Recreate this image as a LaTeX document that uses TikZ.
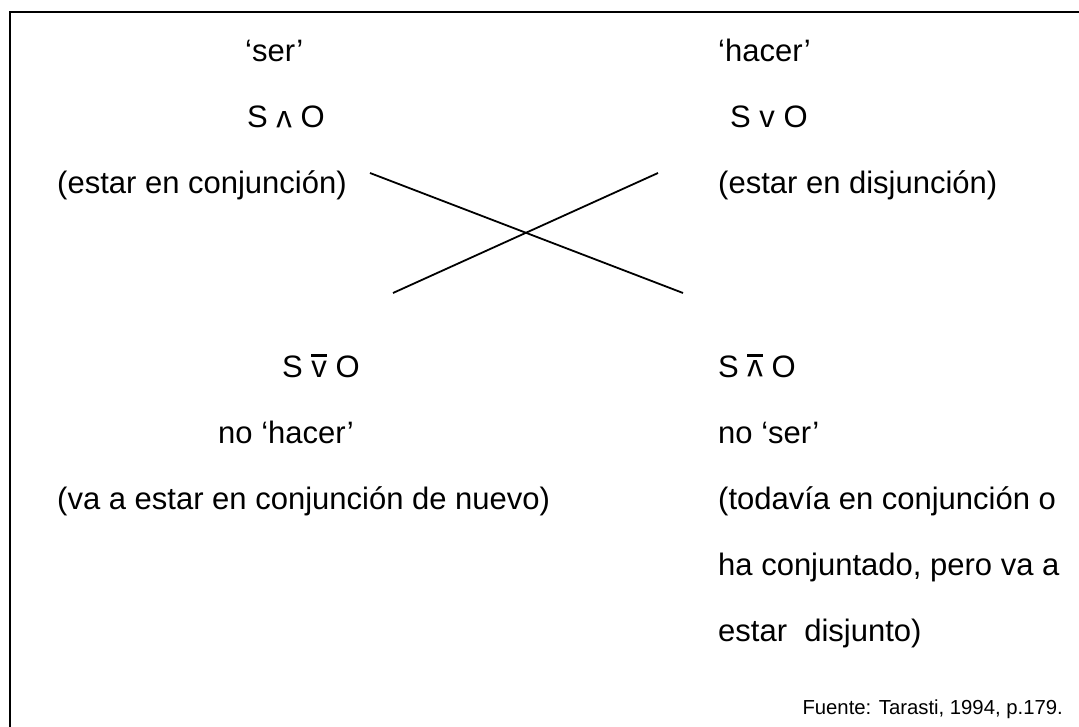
\documentclass[tikz,border=0pt]{standalone}
\usepackage{fontspec}
\setmainfont{Liberation Sans}
\usepackage{graphicx}
\newcommand{\opor}{v}
\newcommand{\opand}{\rotatebox[origin=c]{180}{v}}
\newcommand{\withbar}[1]{\setbox0\hbox{#1}\rlap{\raisebox{20.5pt}{\rule{\wd0}{2.4pt}}}\box0\relax}
\tikzset{
  lbl/.style={anchor=base west, inner sep=0pt, font=\fontsize{31}{37}\selectfont},
  src/.style={anchor=base east, inner sep=0pt, font=\fontsize{20.3}{24}\selectfont},
  xline/.style={line width=1.8pt},
  frame/.style={line width=2pt}
}
\begin{document}
\begin{tikzpicture}[x=1pt,y=-1pt]
\clip (0,0) rectangle (1079,727);
\fill[white] (0,0) rectangle (1079,727);
\draw[frame] (9.5,12.5) rectangle (1100,760);
\node[lbl] (ser) at (245,62) {‘ser’};
\node[lbl] (hacer) at (718,62) {‘hacer’};
\node[lbl] (sand) at (247,128) {S \opand{} O};
\node[lbl] (sor) at (730,128) {S \opor{} O};
\node[lbl] (conj) at (57,194) {(estar en conjunción)};
\node[lbl] (disj) at (718,194) {(estar en disjunción)};
\node[lbl] (snor) at (282,377) {S \withbar{\opor} O};
\node[lbl] (snand) at (718,377) {S \withbar{\opand} O};
\node[lbl] (nohacer) at (218,443) {no ‘hacer’};
\node[lbl] (noser) at (718,443) {no ‘ser’};
\node[lbl] (va) at (57,509) {(va a estar en conjunción de nuevo)};
\node[lbl] (tod1) at (718,509) {(todavía en conjunción o};
\node[lbl] (tod2) at (718,575) {ha conjuntado, pero va a};
\node[lbl] (tod3) at (718,641) {estar\ \ disjunto)};
\node[src] (fuente) at (1063,714) {Fuente: Tarasti, 1994, p.179.};
\coordinate (a1) at (370,173);
\coordinate (a2) at (683,293);
\coordinate (b1) at (393,293);
\coordinate (b2) at (658,173);
\draw[xline] (a1) -- (a2);
\draw[xline] (b1) -- (b2);
\end{tikzpicture}
\end{document}
